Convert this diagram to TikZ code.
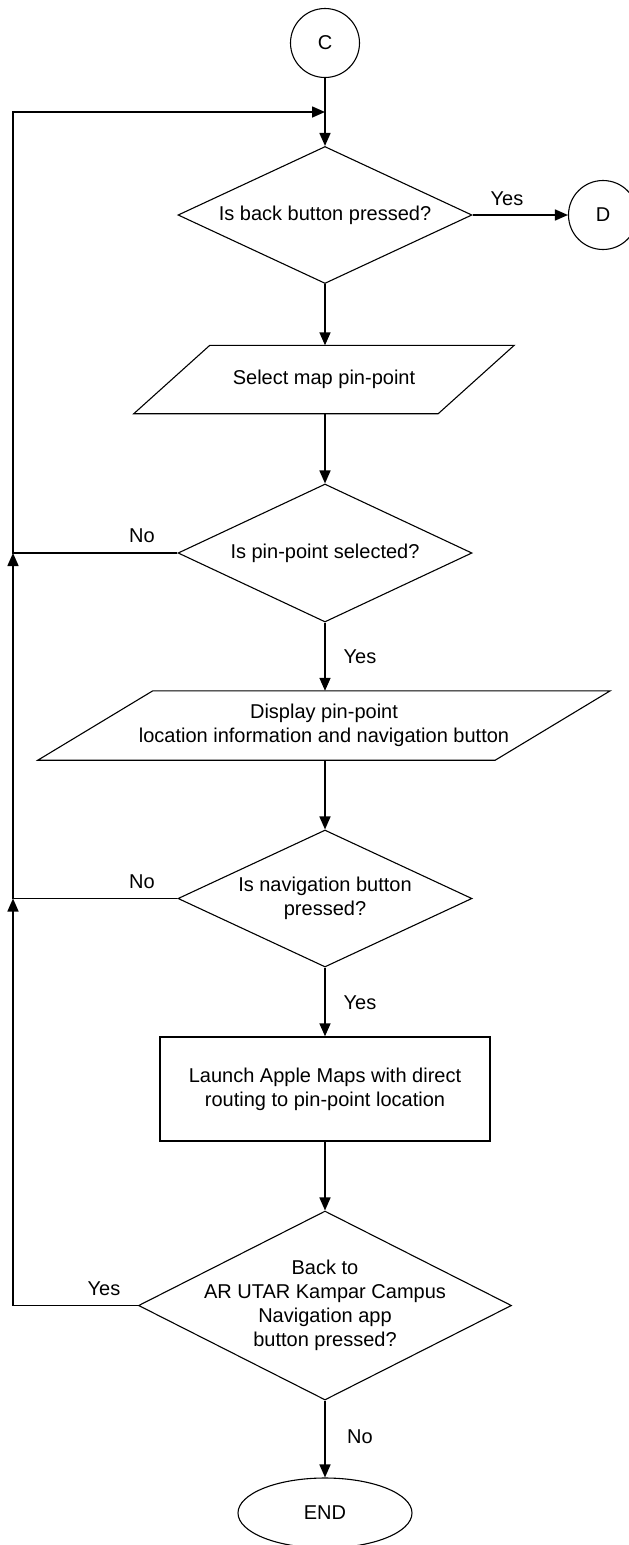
\documentclass[tikz,border=0pt]{standalone}
\usepackage{fontspec}
\setmainfont{Liberation Sans}
\usetikzlibrary{shapes.geometric,arrows.meta}
\begin{document}
\begin{tikzpicture}[x=1pt,y=-1pt,
  line/.style={line width=1.1pt, draw=black},
  flow/.style={line width=1.6pt, draw=black, -{Triangle[length=13pt,width=11pt]}},
  txt/.style={font=\fontsize{20}{24}\selectfont, align=center, inner sep=0pt},
  lbl/.style={font=\fontsize{20}{24}\selectfont, inner sep=0pt},
  decision/.style={diamond, line, fill=white, inner sep=0pt, aspect=1},
  connector/.style={circle, line, fill=white, inner sep=0pt, minimum size=69pt, txt},
  process/.style={rectangle, line, line width=1.4pt, fill=white, txt},
  terminal/.style={ellipse, line, fill=white, inner sep=0pt, txt},
  iotext/.style={rectangle, txt}
]
\useasboundingbox (0,0) rectangle (629,1545);

% off-page connectors
\node[connector] (c) at (325,43) {C};
\node[connector] (dcon) at (603,215) {D};

% first decision
\node[decision, minimum width=294pt, minimum height=137pt] (d1) at (325,215) {};
\node[txt] (d1t) at (d1) {Is back button pressed?};

% select map pin-point (input)
\node[iotext, minimum width=380pt, minimum height=68pt] (p1) at (324,379.5) {Select map pin-point};
\draw[line] (p1.south west) -- ([xshift=76pt]p1.north west) -- (p1.north east)
  -- ([xshift=-76pt]p1.south east) -- cycle;

% second decision
\node[decision, minimum width=294pt, minimum height=138pt] (d2) at (325,553) {};
\node[txt] (d2t) at (d2) {Is pin-point selected?};

% display information (output)
\node[iotext, minimum width=572pt, minimum height=69pt] (p2) at (324,725.5)
  {Display pin-point\\location information and navigation button};
\draw[line] (p2.south west) -- ([xshift=115pt]p2.north west) -- (p2.north east)
  -- ([xshift=-115pt]p2.south east) -- cycle;

% third decision
\node[decision, minimum width=294pt, minimum height=137pt] (d3) at (325,898.5) {};
\node[txt] (d3t) at (d3) {Is navigation button\\pressed?};

% launch maps
\node[process, minimum width=330pt, minimum height=104pt] (r) at (325,1089)
  {Launch Apple Maps with direct\\routing to pin-point location};

% fourth decision
\node[decision, minimum width=373pt, minimum height=189pt] (d4) at (325,1305.5) {};
\node[txt] (d4t) at (d4) {Back to\\AR UTAR Kampar Campus\\Navigation app\\button pressed?};

% end
\node[terminal, minimum width=174pt, minimum height=70pt] (e) at (325,1513) {END};

% loop-back points
\coordinate (j1) at (13,112);
\coordinate (m1) at (325,112);

% main flow
\draw[flow] (c.south) -- (d1.north);
\draw[flow] (d1.east) -- (dcon.west);
\draw[flow] (d1.south) -- (d1.south |- p1.north);
\draw[flow] (d1.south |- p1.south) -- (d2.north);
\draw[flow] (d2.south) -- (d2.south |- p2.north);
\draw[flow] (d2.south |- p2.south) -- (d3.north);
\draw[flow] (d3.south) -- (r.north);
\draw[flow] (r.south) -- (d4.north);
\draw[flow] (d4.south) -- (e.north);

% return paths
\draw[flow] (d2.west) -| (j1) -- (m1);
\draw[flow] (d3.west) -- (d3.west -| j1) -- (d2.west -| j1);
\draw[flow] (d4.west) -- (d4.west -| j1) -- (d3.west -| j1);

% branch labels
\node[lbl] (y1) at (507,199) {Yes};
\node[lbl] (n2) at (142,536) {No};
\node[lbl] (y2) at (360,657) {Yes};
\node[lbl] (n3) at (142,882) {No};
\node[lbl] (y3) at (360,1003) {Yes};
\node[lbl] (y4) at (104,1289) {Yes};
\node[lbl] (n4) at (360,1437) {No};
\end{tikzpicture}
\end{document}
